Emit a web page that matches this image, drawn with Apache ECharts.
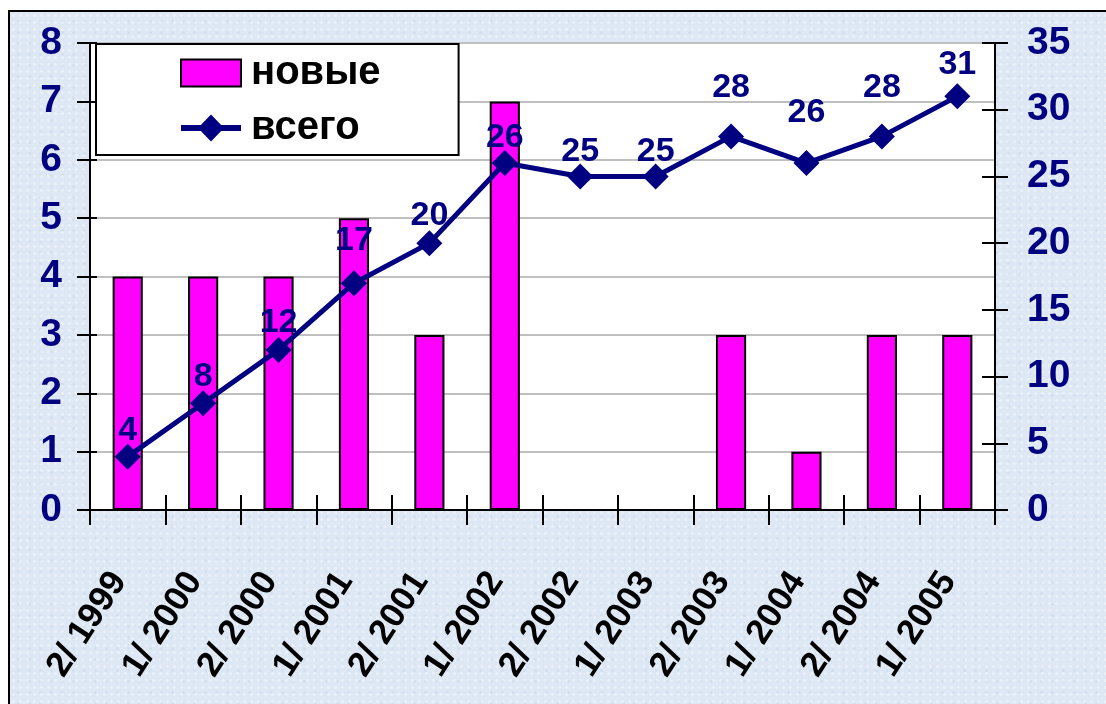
<!DOCTYPE html>
<html>
<head>
<meta charset="utf-8">
<script src="https://cdn.jsdelivr.net/npm/echarts@6/dist/echarts.min.js"></script>
<style>
  html, body { margin: 0; padding: 0; width: 1106px; height: 704px; overflow: hidden; background: #ffffff; }
  #frame {
    position: absolute; left: 8px; top: 10px; width: 1110px; height: 710px;
    border: 2px solid #000; box-sizing: border-box;
    background-color: #dde8f4;
    background-image:
      radial-gradient(rgba(255,255,255,0.35) 1px, transparent 2px),
      radial-gradient(rgba(180,198,220,0.25) 1px, transparent 2px);
    background-size: 7px 7px, 11px 11px;
    background-position: 0 0, 3px 4px;
  }
  #chart { position: absolute; left: 0; top: 0; width: 1106px; height: 704px; }
</style>
</head>
<body>
<div id="frame"></div>
<div id="chart"></div>
<script>
// periods (half-year / year)
const periods = ["2/ 1999", "1/ 2000", "2/ 2000", "1/ 2001", "2/ 2001", "1/ 2002",
                 "2/ 2002", "1/ 2003", "2/ 2003", "1/ 2004", "2/ 2004", "1/ 2005"];
const newValues = [4, 4, 4, 5, 3, 7, 0, 0, 3, 1, 3, 3];
const totalValues = [4, 8, 12, 17, 20, 26, 25, 25, 28, 26, 28, 31];
// labels were nudged by hand in the original, so some sit higher
const labelLift = [-4, -3, -3, 13, -2, -5, -5, -5, 19, 20, 19, 2];

const NAVY = "#000080";
const FONT = "'Liberation Sans', Arial, sans-serif";

const chart = echarts.init(document.getElementById("chart"), null, { renderer: "canvas" });

const option = {
  animation: false,
  backgroundColor: "transparent",
  textStyle: { fontFamily: FONT },
  grid: {
    left: 90, right: 111, top: 43, bottom: 194,
    show: true, backgroundColor: "#ffffff", borderWidth: 0,
  },
  legend: {
    orient: "vertical",
    left: 96, top: 44,
    padding: [9, 78, 7, 84],
    itemGap: 15,
    itemWidth: 60,
    itemHeight: 27,
    backgroundColor: "#ffffff",
    borderColor: "#000",
    borderWidth: 2,
    selectedMode: false,
    textStyle: { fontSize: 40, fontWeight: "bold", color: "#000", lineHeight: 40, padding: [0, 0, 0, 5], fontFamily: FONT },
    data: [
      { name: "новые", icon: "rect" },
      { name: "всего", icon: "path://M0,10.5H60V16.5H0Z M30,0L43,13.5L30,27L17,13.5Z" },
    ],
  },
  xAxis: [
    {
      type: "category",
      data: periods,
      position: "bottom",
      axisLine: { lineStyle: { color: "#000", width: 2 } },
      axisTick: { show: true, length: 15, lineStyle: { color: "#000", width: 2 } },
      axisLabel: {
        rotate: 57, margin: 52, fontSize: 35, fontWeight: "bold", color: "#000",
        padding: [0, 16, 0, 0], interval: 0, fontFamily: FONT,
      },
    },
    {
      type: "category",
      data: periods,
      position: "bottom",
      axisLine: { show: false },
      axisTick: { show: true, inside: true, length: 15, lineStyle: { color: "#000", width: 2 } },
      axisLabel: { show: false },
    },
  ],
  yAxis: [
    {
      type: "value", min: 0, max: 8, interval: 1, position: "left",
      axisLine: { show: true, lineStyle: { color: "#000", width: 2 } },
      axisTick: { show: true, length: 13, lineStyle: { color: "#000", width: 2 } },
      axisLabel: { margin: 28, fontSize: 39, fontWeight: "bold", color: NAVY, fontFamily: FONT },
      splitLine: { show: true, lineStyle: { color: "#c0c0c0", width: 2 } },
    },
    {
      type: "value", min: 0, max: 35, interval: 5, position: "right",
      axisLine: { show: true, lineStyle: { color: "#000", width: 2 } },
      axisTick: { show: true, length: 13, lineStyle: { color: "#000", width: 2 } },
      axisLabel: { margin: 32, fontSize: 39, fontWeight: "bold", color: NAVY, fontFamily: FONT },
      splitLine: { show: false },
    },
    {
      type: "value", min: 0, max: 8, interval: 1, position: "left",
      axisLine: { show: false },
      axisTick: { show: true, inside: true, length: 7, lineStyle: { color: "#000", width: 2 } },
      axisLabel: { show: false },
      splitLine: { show: false },
    },
    {
      type: "value", min: 0, max: 35, interval: 5, position: "right",
      axisLine: { show: false },
      axisTick: { show: true, inside: true, length: 13, lineStyle: { color: "#000", width: 2 } },
      axisLabel: { show: false },
      splitLine: { show: false },
    },
  ],
  series: [
    {
      name: "новые",
      type: "bar",
      xAxisIndex: 0,
      yAxisIndex: 0,
      data: newValues,
      barWidth: "40%",
      itemStyle: { color: "#ff00ff", borderColor: "#000", borderWidth: 2 },
      z: 2,
    },
    {
      name: "всего",
      type: "line",
      xAxisIndex: 0,
      yAxisIndex: 1,
      data: totalValues.map((v, i) => ({ value: v, label: { distance: labelLift[i] } })),
      symbol: "diamond",
      symbolSize: 26,
      lineStyle: { color: NAVY, width: 5 },
      itemStyle: { color: NAVY },
      label: {
        show: true, position: "top",
        fontSize: 34, fontWeight: "bold", color: NAVY, fontFamily: FONT,
      },
      z: 3,
    },
  ],
};

chart.setOption(option);
</script>
</body>
</html>
